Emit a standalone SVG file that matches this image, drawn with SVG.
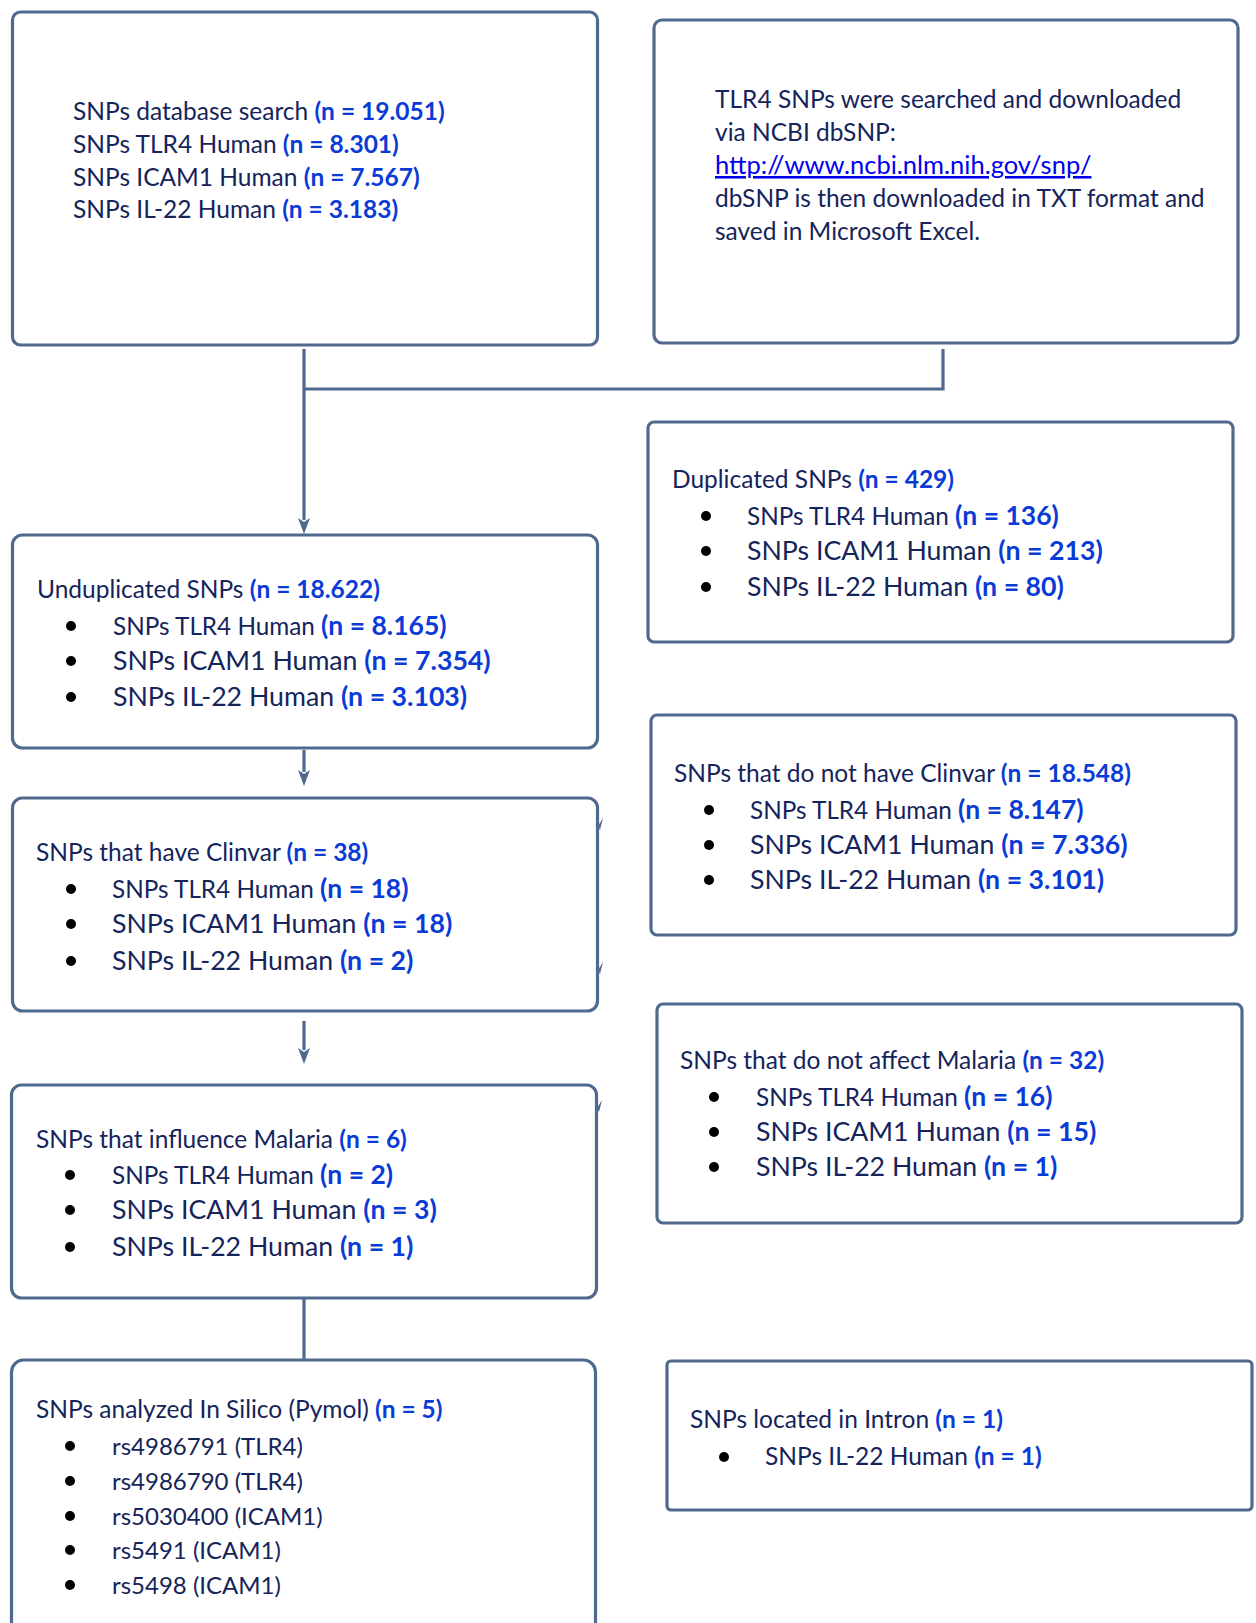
<svg xmlns="http://www.w3.org/2000/svg" width="1256" height="1623" viewBox="0 0 1256 1623">
<style>
.box{fill:#fff;stroke:#50698f;stroke-width:3.2}
.conn{fill:none;stroke:#50698f;stroke-width:3.2}
.t{font-family:Lato,"Liberation Sans",sans-serif;fill:#15245a}
.h{font-size:24.5px}
.b{font-size:26.7px}
.b1{font-size:24.3px}
.b1 .n{font-size:26.5px}
.rs{font-size:24px}
.n{font-weight:bold;fill:#0a3bd6}
.dot{fill:#000}
.link{fill:#0000ee;text-decoration:underline;font-size:25.5px}
.mark{fill:#50698f}
</style>
<rect width="1256" height="1623" fill="#fff"/>
<g id="connectors">
<path class="conn" d="M304,349 V520"/>
<path d="M298,518 L304,522 L310,518 L304,534 Z" class="mark"/>
<path class="conn" d="M304,389 H943 V349"/>
<path class="conn" d="M304,750 V772"/>
<path d="M298,770 L304,774 L310,770 L304,786 Z" class="mark"/>
<path class="conn" d="M304,1021 V1050"/>
<path d="M298,1048 L304,1052 L310,1048 L304,1064 Z" class="mark"/>
<path class="conn" d="M304,1298 V1359"/>
<path class="mark" d="M598,826 L603,818 L600,830 Z"/>
<path class="mark" d="M598,970 L603,962 L600,974 Z"/>
<path class="mark" d="M597,1108 L602,1100 L599,1112 Z"/>
</g>
<g id="node-search">
<rect class="box" x="12.5" y="12" width="585" height="333" rx="8"/>
<text class="t h" x="73" y="120">SNPs database search <tspan class="n">(n = 19.051)</tspan></text>
<text class="t h" x="73" y="153">SNPs TLR4 Human <tspan class="n">(n = 8.301)</tspan></text>
<text class="t h" x="73" y="186">SNPs ICAM1 Human <tspan class="n">(n = 7.567)</tspan></text>
<text class="t h" x="73" y="218">SNPs IL-22 Human <tspan class="n">(n = 3.183)</tspan></text>
</g>
<g id="node-ncbi">
<rect class="box" x="654" y="20" width="584" height="323" rx="8"/>
<text class="t h" x="715" y="108">TLR4 SNPs were searched and downloaded</text>
<text class="t h" x="715" y="141">via NCBI dbSNP:</text>
<text class="t h link" x="715" y="174">http://www.ncbi.nlm.nih.gov/snp/</text>
<text class="t h" x="715" y="207">dbSNP is then downloaded in TXT format and</text>
<text class="t h" x="715" y="240">saved in Microsoft Excel.</text>
</g>
<g id="node-unduplicated">
<rect class="box" x="12.5" y="535" width="585" height="213" rx="10"/>
<text class="t h" x="37" y="598">Unduplicated SNPs <tspan class="n">(n = 18.622)</tspan></text>
<circle class="dot" cx="71" cy="626" r="5"/>
<text class="t b1" x="113" y="635">SNPs TLR4 Human <tspan class="n">(n = 8.165)</tspan></text>
<circle class="dot" cx="71" cy="661" r="5"/>
<text class="t b" x="113" y="670">SNPs ICAM1 Human <tspan class="n">(n = 7.354)</tspan></text>
<circle class="dot" cx="71" cy="697" r="5"/>
<text class="t b" x="113" y="706">SNPs IL-22 Human <tspan class="n">(n = 3.103)</tspan></text>
</g>
<g id="node-duplicated">
<rect class="box" x="648" y="422" width="585" height="220" rx="6"/>
<text class="t h" x="672" y="488">Duplicated SNPs <tspan class="n">(n = 429)</tspan></text>
<circle class="dot" cx="706" cy="516" r="5"/>
<text class="t b1" x="747" y="525">SNPs TLR4 Human <tspan class="n">(n = 136)</tspan></text>
<circle class="dot" cx="706" cy="551" r="5"/>
<text class="t b" x="747" y="560">SNPs ICAM1 Human <tspan class="n">(n = 213)</tspan></text>
<circle class="dot" cx="706" cy="587" r="5"/>
<text class="t b" x="747" y="596">SNPs IL-22 Human <tspan class="n">(n = 80)</tspan></text>
</g>
<g id="node-have-clinvar">
<rect class="box" x="12.5" y="798" width="585" height="213" rx="10"/>
<text class="t h" x="36" y="861">SNPs that have Clinvar <tspan class="n">(n = 38)</tspan></text>
<circle class="dot" cx="71" cy="889" r="5"/>
<text class="t b1" x="112" y="898">SNPs TLR4 Human <tspan class="n">(n = 18)</tspan></text>
<circle class="dot" cx="71" cy="924" r="5"/>
<text class="t b" x="112" y="933">SNPs ICAM1 Human <tspan class="n">(n = 18)</tspan></text>
<circle class="dot" cx="71" cy="961" r="5"/>
<text class="t b" x="112" y="970">SNPs IL-22 Human <tspan class="n">(n = 2)</tspan></text>
</g>
<g id="node-no-clinvar">
<rect class="box" x="651" y="715" width="585" height="220" rx="6"/>
<text class="t h" x="674" y="782">SNPs that do not have Clinvar <tspan class="n">(n = 18.548)</tspan></text>
<circle class="dot" cx="709" cy="810" r="5"/>
<text class="t b1" x="750" y="819">SNPs TLR4 Human <tspan class="n">(n = 8.147)</tspan></text>
<circle class="dot" cx="709" cy="845" r="5"/>
<text class="t b" x="750" y="854">SNPs ICAM1 Human <tspan class="n">(n = 7.336)</tspan></text>
<circle class="dot" cx="709" cy="880" r="5"/>
<text class="t b" x="750" y="889">SNPs IL-22 Human <tspan class="n">(n = 3.101)</tspan></text>
</g>
<g id="node-influence">
<rect class="box" x="11.5" y="1085" width="585" height="213" rx="10"/>
<text class="t h" x="36" y="1148">SNPs that influence Malaria <tspan class="n">(n = 6)</tspan></text>
<circle class="dot" cx="70" cy="1175" r="5"/>
<text class="t b1" x="112" y="1184">SNPs TLR4 Human <tspan class="n">(n = 2)</tspan></text>
<circle class="dot" cx="70" cy="1210" r="5"/>
<text class="t b" x="112" y="1219">SNPs ICAM1 Human <tspan class="n">(n = 3)</tspan></text>
<circle class="dot" cx="70" cy="1247" r="5"/>
<text class="t b" x="112" y="1256">SNPs IL-22 Human <tspan class="n">(n = 1)</tspan></text>
</g>
<g id="node-not-affect">
<rect class="box" x="657" y="1004" width="585" height="219" rx="6"/>
<text class="t h" x="680" y="1069">SNPs that do not affect Malaria <tspan class="n">(n = 32)</tspan></text>
<circle class="dot" cx="714" cy="1097" r="5"/>
<text class="t b1" x="756" y="1106">SNPs TLR4 Human <tspan class="n">(n = 16)</tspan></text>
<circle class="dot" cx="714" cy="1132" r="5"/>
<text class="t b" x="756" y="1141">SNPs ICAM1 Human <tspan class="n">(n = 15)</tspan></text>
<circle class="dot" cx="714" cy="1167" r="5"/>
<text class="t b" x="756" y="1176">SNPs IL-22 Human <tspan class="n">(n = 1)</tspan></text>
</g>
<g id="node-insilico">
<rect class="box" x="11.5" y="1360" width="584" height="280" rx="12"/>
<text class="t h" x="36" y="1418">SNPs analyzed In Silico (Pymol) <tspan class="n">(n = 5)</tspan></text>
<circle class="dot" cx="70" cy="1446" r="5"/>
<text class="t rs" x="112" y="1455">rs4986791 (TLR4)</text>
<circle class="dot" cx="70" cy="1481" r="5"/>
<text class="t rs" x="112" y="1490">rs4986790 (TLR4)</text>
<circle class="dot" cx="70" cy="1516" r="5"/>
<text class="t rs" x="112" y="1525">rs5030400 (ICAM1)</text>
<circle class="dot" cx="70" cy="1550" r="5"/>
<text class="t rs" x="112" y="1559">rs5491 (ICAM1)</text>
<circle class="dot" cx="70" cy="1585" r="5"/>
<text class="t rs" x="112" y="1594">rs5498 (ICAM1)</text>
</g>
<g id="node-intron">
<rect class="box" x="667" y="1361" width="585" height="149" rx="4"/>
<text class="t h" x="690" y="1428">SNPs located in Intron <tspan class="n">(n = 1)</tspan></text>
<circle class="dot" cx="724" cy="1457" r="5"/>
<text class="t h" x="765" y="1465">SNPs IL-22 Human <tspan class="n">(n = 1)</tspan></text>
</g>
</svg>
